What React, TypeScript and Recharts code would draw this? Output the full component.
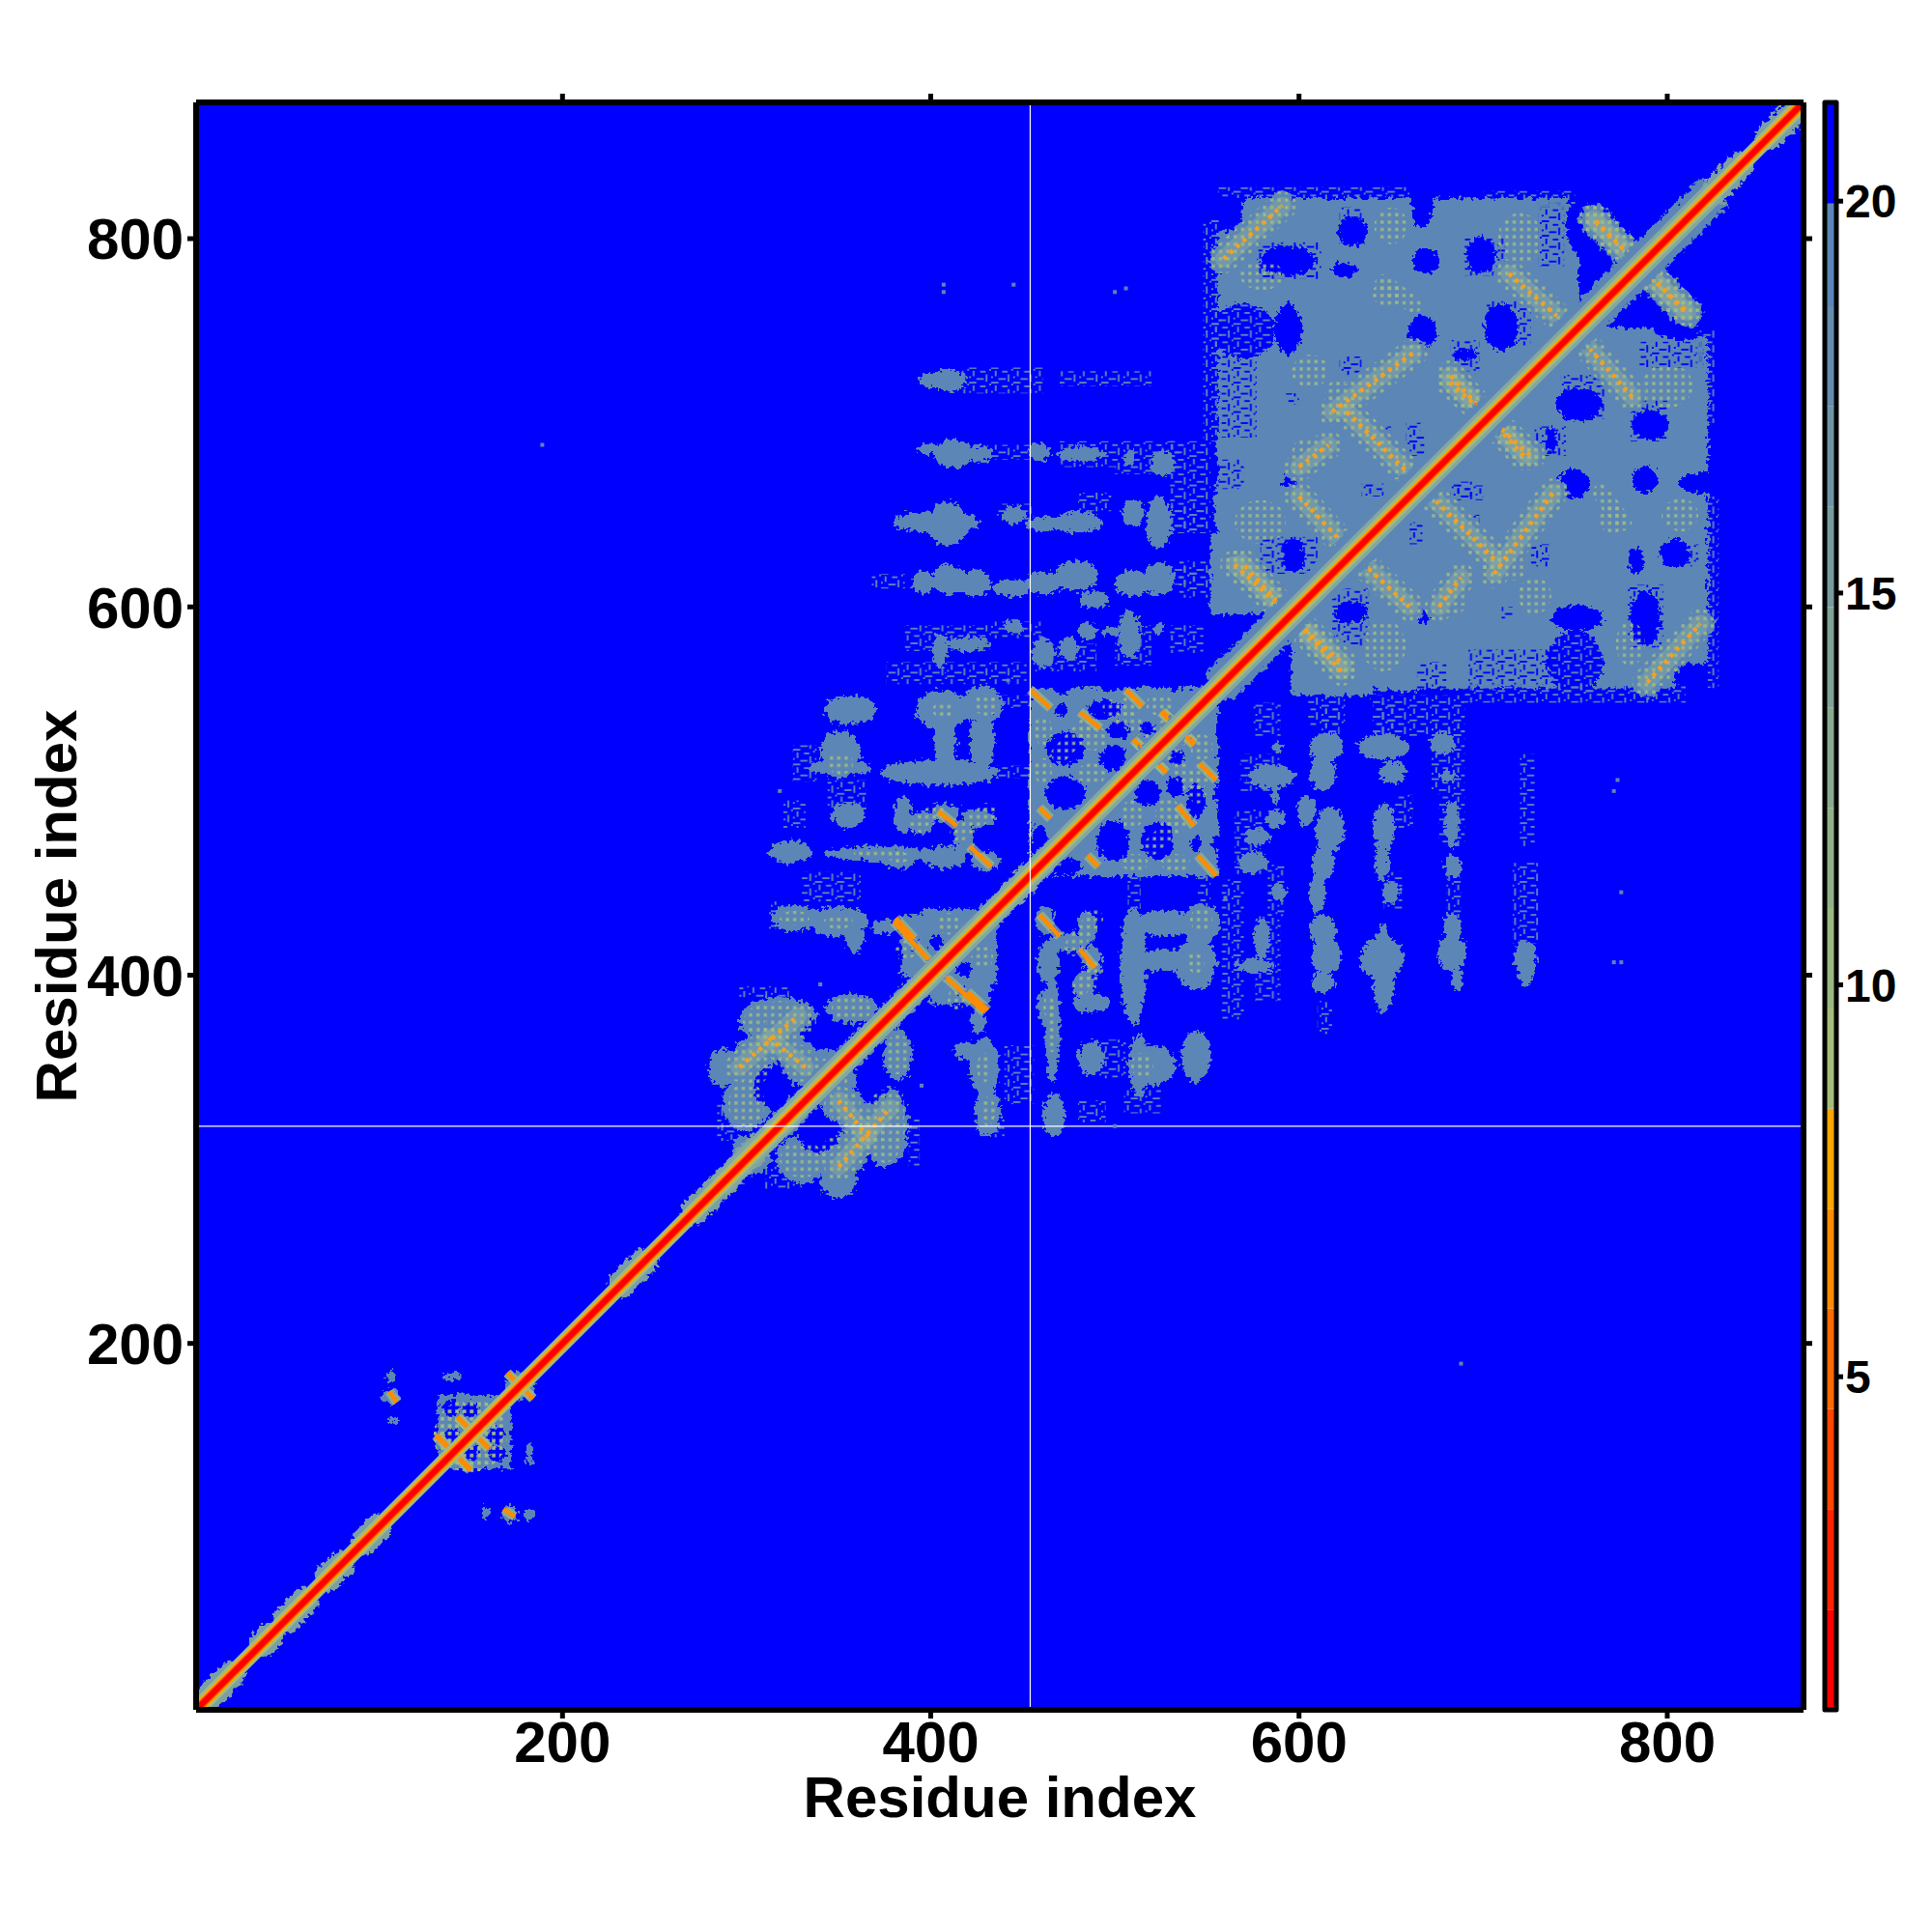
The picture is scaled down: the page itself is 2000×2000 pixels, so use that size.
import { ScatterChart, Scatter, XAxis, YAxis, ReferenceArea, ReferenceLine } from 'recharts'

// contact map is symmetric, everything below is read from the y > x half (residue units)
const xTicks = [200, 400, 600, 800]
const barTicks = [5, 10, 15, 20]

// [x1, x2, y1, y2]
const steelBlocks = [
  [556, 752, 640, 822], [552, 640, 596, 640], [454, 556, 454, 556],
  [384, 436, 395, 432], [132, 172, 132, 172],
]
// [cx, cy, rx, ry]
const steelBlobs = [
  [318, 375, 22, 13], [303, 352, 12, 14], [300, 330, 13, 14], [357, 382, 14, 8], [330, 352, 10, 12],
  [343, 352, 9, 8], [288, 350, 9, 10], [300, 305, 8, 8],
  [356, 544, 14, 8], [351, 520, 11, 13], [351, 513, 17, 5], [406, 544, 14, 11], [428, 547, 11, 10],
  [408, 527, 6, 15], [428, 527, 7, 15], [405, 510, 32, 7], [416, 545, 12, 6],
  [324, 467, 12, 6], [372, 466, 30, 4], [383, 464, 10, 6], [407, 464, 12, 6], [355, 487, 9, 7],
  [385, 487, 5, 10], [395, 483, 7, 6], [418, 475, 5, 10], [408, 488, 8, 5], [426, 485, 9, 5], [430, 462, 8, 5],
  [326, 431, 13, 7], [350, 429, 16, 8], [359, 420, 5, 8], [375, 426, 7, 4],
  [409, 723, 10, 6], [400, 723, 6, 4],
  [412, 683, 10, 8], [398, 686, 6, 3], [426, 683, 8, 4.5], [459, 684, 6, 5], [482, 683, 13, 4], [508, 681, 3, 5], [526, 678, 6, 7],
  [409, 645, 11, 12], [403, 646, 24, 6], [445, 650, 6, 5], [480, 646, 13, 6], [461, 645, 10, 4], [510, 651, 6, 7], [524, 646, 7, 14],
  [410, 615, 9, 8], [424, 613, 9, 7], [396, 613, 6, 6], [444, 610, 10, 4.5], [461, 613, 10, 6], [479, 617, 12, 8],
  [489, 604, 8, 5], [510, 613, 10, 7], [524, 615, 8, 9], [561, 617, 8, 8],
  [405, 576, 4, 10], [420, 580, 12, 4], [445, 589, 5, 4], [461, 575, 6, 8], [475, 577, 5, 7], [485, 587, 5, 5], [508, 585, 6, 13],
  [498, 587, 6, 2], [524, 588, 3, 3], [559, 655, 5, 18], [559, 685, 4, 10],
  [107, 171, 5, 4], [107, 182, 3, 3], [108, 158, 3, 2], [140, 182, 6, 2], [177, 177, 8, 8],
]
const blueHoles = [
  [594, 788, 15, 8], [625, 783, 7, 4], [629, 804, 8, 8], [669, 788, 7, 7], [699, 791, 8, 10],
  [570, 750, 17, 15], [594, 751, 7, 14], [667, 749, 8, 9], [710, 752, 9, 13], [690, 737, 7, 3],
  [595, 668, 4, 4], [597, 628, 6, 9],
  [755, 808, 10, 18], [748, 826, 6, 6], [556, 824, 14, 20], [562, 812, 7, 8], [667, 820, 6, 14],
  [473, 523, 10, 9], [473, 499, 11, 9], [494, 544, 9, 5], [518, 534, 4, 4], [471, 544, 4, 3],
  [499, 518, 7, 7], [502, 533, 6, 5], [459, 470, 5, 12],
  [471, 557, 5, 4], [498, 557, 6, 3], [532, 558, 5, 3],
  [403, 418, 4, 4], [391, 417, 2, 3], [386, 392, 6, 8],
  [314, 339, 10, 11], [340, 370, 11, 7],
  [140, 165, 4.5, 4.5], [150, 164, 4.5, 4.5], [141, 151, 3, 3], [150, 140, 4, 4], [164, 140, 4, 4],
]
const blueHatch = [
  [557, 577, 692, 748], [622, 634, 726, 736], [593, 600, 710, 716], [579, 610, 618, 638], [682, 698, 728, 745],
  [702, 726, 742, 766], [658, 666, 686, 700], [682, 694, 660, 668], [634, 646, 660, 667], [555, 570, 664, 680],
  [730, 744, 785, 820], [622, 634, 797, 817], [578, 612, 778, 798], [690, 712, 780, 800], [630, 650, 690, 698],
]
const hatchAreas = [
  [417, 461, 716, 730], [470, 520, 720, 728], [431, 456, 680, 688], [470, 500, 676, 690], [500, 535, 672, 690],
  [436, 456, 646, 656], [480, 498, 652, 662], [530, 548, 640, 655], [530, 545, 612, 622], [368, 386, 610, 618],
  [386, 432, 576, 590], [432, 460, 583, 592], [455, 490, 565, 580], [500, 520, 568, 590], [530, 548, 575, 590],
  [376, 452, 558, 570],
  [548, 558, 690, 810], [553, 585, 737, 765], [556, 660, 822, 828], [700, 750, 816, 826], [530, 552, 640, 690], [535, 552, 605, 625],
  [436, 454, 545, 552], [436, 454, 507, 514], [320, 332, 480, 495], [344, 365, 490, 506], [280, 295, 340, 358],
  [284, 296, 310, 330], [296, 323, 388, 394], [325, 338, 505, 525], [312, 322, 425, 440], [330, 362, 440, 456],
]
const sagePatches = [
  [580, 780, 12, 8], [650, 807, 9, 10], [648, 770, 8, 7], [606, 728, 10, 9], [624, 716, 10, 8],
  [579, 646, 14, 12], [720, 800, 12, 14], [604, 684, 8, 8], [700, 700, 12, 12], [786, 786, 10, 10],
  [318, 375, 20, 11], [303, 352, 11, 12], [300, 330, 10, 12], [357, 382, 11, 7], [330, 352, 9, 10], [345, 347, 9, 8],
  [430, 547, 7, 6], [407, 544, 6, 5], [410, 428, 7, 6], [387, 414, 6, 5], [351, 515, 7, 6],
  [372, 466, 14, 3], [383, 464, 6, 3], [326, 431, 8, 4], [350, 429, 8, 4],
  [488, 529, 8, 7], [524, 547, 7, 6], [461, 533, 5, 8], [461, 511, 5, 7], [487, 509, 8, 6], [508, 546, 7, 5],
  [150, 150, 20, 20],
]
// [x1, y1, x2, y2]
const softRidges = [
  [646, 776, 662, 764], [393, 481, 403, 489], [431, 489, 415, 477],
  [470, 520, 484, 535], [498, 545, 512, 535], [528, 520, 536, 530],
]
const dottedRidges = [
  [559, 789, 591, 818], [714, 781, 740, 758], [761, 809, 811, 760], [618, 706, 662, 738],
  [626, 706, 666, 666], [682, 722, 726, 682], [600, 676, 616, 688], [600, 660, 628, 630],
  [565, 623, 624, 569], [296, 350, 328, 378], [312, 366, 332, 350],
]
const solidRidges = [
  [454, 555, 465, 545], [481, 543, 492, 534], [506, 555, 515, 546], [526, 543, 543, 526],
  [511, 527, 528, 510], [404, 489, 414, 481], [421, 470, 433, 459], [381, 431, 391, 420],
  [407, 400, 429, 380], [131, 150, 150, 132], [143, 160, 160, 143], [170, 184, 184, 170],
  [106, 174, 110, 168], [525, 543, 534, 534], [459, 491, 465, 485],
]
// stretches of the diagonal: [from, to]
const diagWide = [[556, 826]]
const diagMedium = [[285, 400], [400, 440], [452, 556]]
const diagBumps = [
  [3, 20], [36, 42], [50, 60], [72, 80], [92, 100], [232, 244], [272, 288], [296, 306],
  [445, 452], [826, 840], [855, 870],
]
const specks = [
  [407, 771], [407, 775], [445, 775], [500, 771], [506, 773], [189, 688], [442, 560], [318, 500], [340, 395],
]

// colour key, bottom to top
const levelEdges = [0.75, 2.03, 3.31, 4.59, 5.87, 7.14, 8.42, 9.7, 10.98, 12.26, 13.54, 14.82, 16.1, 17.38, 18.66, 19.97, 21.26]
const levelColors = [
  '#ff0000', '#ff2200', '#ff4500', '#ff6a00', '#ff8c00', '#ffa500',
  '#a3bd7c', '#9bb782', '#93b088', '#8aa98f', '#81a296', '#789b9d', '#6f94a5', '#668dad', '#5c86b8', '#0000ff',
]

const STEEL = '#5b86b5'
const SAGE = '#a0bb85'
const BLUE = '#0000ff'
const FONT = '"Liberation Sans", Arial, sans-serif'

const mirrorBox = (r: number[]) => [r[2], r[3], r[0], r[1]]
const mirrorBlob = (r: number[]) => [r[1], r[0], r[3], r[2]]
const mirrorSeg = (r: number[]) => [r[1], r[0], r[3], r[2]]
const both = (list: number[][], fn: (r: number[]) => number[]) => [...list, ...list.map(fn)]

const oval = (fill: string, rough = true) => (p: any) => (
  <ellipse cx={p.x + p.width / 2} cy={p.y + p.height / 2} rx={Math.abs(p.width) / 2} ry={Math.abs(p.height) / 2}
    fill={fill} filter={rough ? 'url(#rough)' : undefined} shapeRendering="crispEdges" />
)
const box = (fill: string) => (p: any) => (
  <rect x={p.x} y={p.y} width={p.width} height={p.height} fill={fill} filter="url(#rough)" shapeRendering="crispEdges" />
)
const blobArea = (r: number[], key: string, fill: string, rough = true) => (
  <ReferenceArea key={key} x1={r[0] - r[2]} x2={r[0] + r[2]} y1={r[1] - r[3]} y2={r[1] + r[3]}
    ifOverflow="hidden" shape={oval(fill, rough)} />
)
const boxArea = (r: number[], key: string, fill: string) => (
  <ReferenceArea key={key} x1={r[0]} x2={r[1]} y1={r[2]} y2={r[3]} ifOverflow="hidden" shape={box(fill)} />
)
const patternArea = (r: number[], key: string, fill: string) => (
  <ReferenceArea key={key} x1={r[0]} x2={r[1]} y1={r[2]} y2={r[3]} ifOverflow="hidden" fill={fill} fillOpacity={1} />
)
const seg = (r: number[], key: string, stroke: string, width: number, extra: any = {}) => (
  <ReferenceLine key={key} segment={[{ x: r[0], y: r[1] }, { x: r[2], y: r[3] }]} stroke={stroke} strokeWidth={width}
    ifOverflow="hidden" {...extra} />
)
const diag = (r: number[], key: string, stroke: string, width: number, extra: any = {}) =>
  seg([r[0], r[0], r[1], r[1]], key, stroke, width, extra)

const tickFont = { fontFamily: FONT, fontWeight: 700, fontSize: 60, fill: '#000' }
const tickLine = { stroke: '#000', strokeWidth: 5 }
const axisLine = { stroke: '#000', strokeWidth: 6 }
const noLabel = () => <g />
const specksData = specks.map((s) => ({ x: s[0], y: s[1] }))
const specksMirrored = specks.map((s) => ({ x: s[1], y: s[0] }))
const keyPoints = levelEdges.map((y) => ({ x: 0.5, y }))
const speckShape = (p: any) => <rect x={p.cx - 2} y={p.cy - 2} width={4} height={4} fill={STEEL} />

const hatchRects = [
  [0, 0, 7.6, 1.9], [11.4, 3.8, 5.7, 1.9], [3.8, 3.8, 1.9, 5.7], [17.1, 7.6, 1.9, 7.6],
  [7.6, 11.4, 7.6, 1.9], [0, 9.5, 1.9, 1.9], [20.9, 1.9, 1.9, 1.9],
]

export default function App() {
  return (
    <div style={{ position: 'absolute', left: 0, top: 0, width: 2000, height: 2000, background: '#fff' }}>
      <div style={{ position: 'absolute', left: 0, top: 0 }}>
        <ScatterChart width={2000} height={2000} margin={{ top: 0, right: 0, bottom: 0, left: 0 }}>
          <defs>
            <filter id="rough" x="-100%" y="-100%" width="300%" height="300%">
              <feTurbulence type="fractalNoise" baseFrequency="0.22" numOctaves="2" seed="4" />
              <feDisplacementMap in="SourceGraphic" scale="12" xChannelSelector="R" yChannelSelector="G" />
            </filter>
            <pattern id="sageDots" width="7.6" height="7.6" patternUnits="userSpaceOnUse">
              <rect x="0" y="0" width="3.8" height="3.8" fill={SAGE} opacity="0.6" />
              <rect x="1" y="1" width="1.9" height="1.9" fill={SAGE} />
            </pattern>
            <pattern id="hatch" width="22.8" height="15.2" patternUnits="userSpaceOnUse">
              {hatchRects.map((r, i) => <rect key={i} x={r[0]} y={r[1]} width={r[2]} height={r[3]} fill={STEEL} />)}
            </pattern>
            <pattern id="blueHatch" width="22.8" height="15.2" patternUnits="userSpaceOnUse">
              {hatchRects.map((r, i) => <rect key={i} x={r[0]} y={r[1]} width={r[2]} height={r[3]} fill={BLUE} />)}
            </pattern>
          </defs>
          <rect x={203} y={106} width={1664} height={1664} fill={BLUE} />
          <XAxis xAxisId={0} type="number" dataKey="x" domain={[1, 874]} ticks={xTicks} height={230}
            tick={tickFont} tickLine={tickLine} axisLine={axisLine} tickSize={9} tickMargin={2} interval={0}
            label={{ value: 'Residue index', position: 'insideBottom', offset: 119, style: { ...tickFont, textAnchor: 'middle' } }} />
          <XAxis xAxisId="top" orientation="top" type="number" dataKey="x" domain={[1, 874]} ticks={xTicks} height={106}
            tick={noLabel} tickLine={tickLine} axisLine={axisLine} tickSize={9} interval={0} />
          <YAxis yAxisId={0} type="number" dataKey="y" domain={[1, 874]} ticks={xTicks} width={203}
            tick={tickFont} tickLine={tickLine} axisLine={axisLine} tickSize={9} tickMargin={4} interval={0}
            label={{ value: 'Residue index', angle: -90, position: 'insideLeft', offset: 58, style: { ...tickFont, textAnchor: 'middle' } }} />
          <YAxis yAxisId="right" orientation="right" type="number" dataKey="y" domain={[1, 874]} ticks={xTicks} width={133}
            tick={noLabel} tickLine={tickLine} axisLine={axisLine} tickSize={9} interval={0} />

          {both(steelBlocks, mirrorBox).map((r, i) => boxArea(r, 'b' + i, STEEL))}
          {both(steelBlobs, mirrorBlob).map((r, i) => blobArea(r, 's' + i, STEEL))}
          {both(blueHoles, mirrorBlob).map((r, i) => blobArea(r, 'o' + i, BLUE))}
          {both(blueHatch, mirrorBox).map((r, i) => patternArea(r, 'bh' + i, 'url(#blueHatch)'))}
          {both(hatchAreas, mirrorBox).map((r, i) => patternArea(r, 'h' + i, 'url(#hatch)'))}
          {both(sagePatches, mirrorBlob).map((r, i) => blobArea(r, 'p' + i, 'url(#sageDots)', false))}

          {both(softRidges, mirrorSeg).map((r, i) => seg(r, 'sr' + i, 'url(#sageDots)', 18, { strokeLinecap: 'round' }))}
          {both(dottedRidges, mirrorSeg).map((r, i) => seg(r, 'd0' + i, STEEL, 30, { filter: 'url(#rough)', strokeLinecap: 'round' }))}
          {both(dottedRidges, mirrorSeg).map((r, i) => seg(r, 'd1' + i, '#8fb09f', 18, { strokeOpacity: 0.45, strokeLinecap: 'round' }))}
          {both(dottedRidges, mirrorSeg).map((r, i) => seg(r, 'd2' + i, 'url(#sageDots)', 30, { strokeLinecap: 'round' }))}
          {both(dottedRidges, mirrorSeg).map((r, i) => seg(r, 'd3' + i, '#f5a020', 4.5, { strokeDasharray: '4 5' }))}
          {both(solidRidges, mirrorSeg).map((r, i) => seg(r, 'r0' + i, SAGE, 10, { strokeOpacity: 0.7 }))}
          {both(solidRidges, mirrorSeg).map((r, i) => seg(r, 'r1' + i, '#ff8c00', 4.5))}

          {diagWide.map((r, i) => diag(r, 'dw' + i, STEEL, 40, { filter: 'url(#rough)' }))}
          {diagMedium.map((r, i) => diag(r, 'dm' + i, STEEL, 26, { filter: 'url(#rough)' }))}
          {diagBumps.map((r, i) => diag(r, 'db' + i, '#7c9fa3', 28, { strokeLinecap: 'round', filter: 'url(#rough)' }))}
          {diag([285, 826], 'dmid', '#86a79e', 24)}
          {diag([1, 874], 'dall', SAGE, 17)}
          {diag([1, 874], 'dora', '#ffa500', 12)}
          {diag([1, 874], 'dor2', '#ff5a00', 8.5)}
          {diag([1, 874], 'dred', '#ff0000', 6)}

          <ReferenceLine x={454} stroke="#fff" strokeWidth={1.2} />
          <ReferenceLine y={318} stroke="#fff" strokeWidth={1.2} />
          <Scatter data={specksData} shape={speckShape} isAnimationActive={false} />
          <Scatter xAxisId="top" yAxisId="right" data={specksMirrored} shape={speckShape} isAnimationActive={false} />
        </ScatterChart>
      </div>
      <div style={{ position: 'absolute', left: 1879, top: 0 }}>
        <ScatterChart width={121} height={2000} margin={{ top: 106, right: 0, bottom: 230, left: 10 }}>
          <XAxis type="number" dataKey="x" domain={[0, 1]} hide />
          <YAxis type="number" dataKey="y" domain={[0.75, 21.26]} ticks={barTicks} orientation="right" width={99}
            tick={{ ...tickFont, fontSize: 48, textAnchor: 'start' }} tickLine={tickLine} axisLine={false} tickSize={7} tickMargin={2} interval={0} />
          {levelColors.map((c, i) => (
            <ReferenceArea key={i} x1={0} x2={1} y1={levelEdges[i]} y2={levelEdges[i + 1]} fill={c} fillOpacity={1} stroke="none" />
          ))}
          <ReferenceArea x1={0} x2={1} y1={0.75} y2={21.26} fill="none" stroke="#000" strokeWidth={5} strokeLinejoin="round" />
          <Scatter data={keyPoints} shape={noLabel} isAnimationActive={false} />
        </ScatterChart>
      </div>
    </div>
  )
}
